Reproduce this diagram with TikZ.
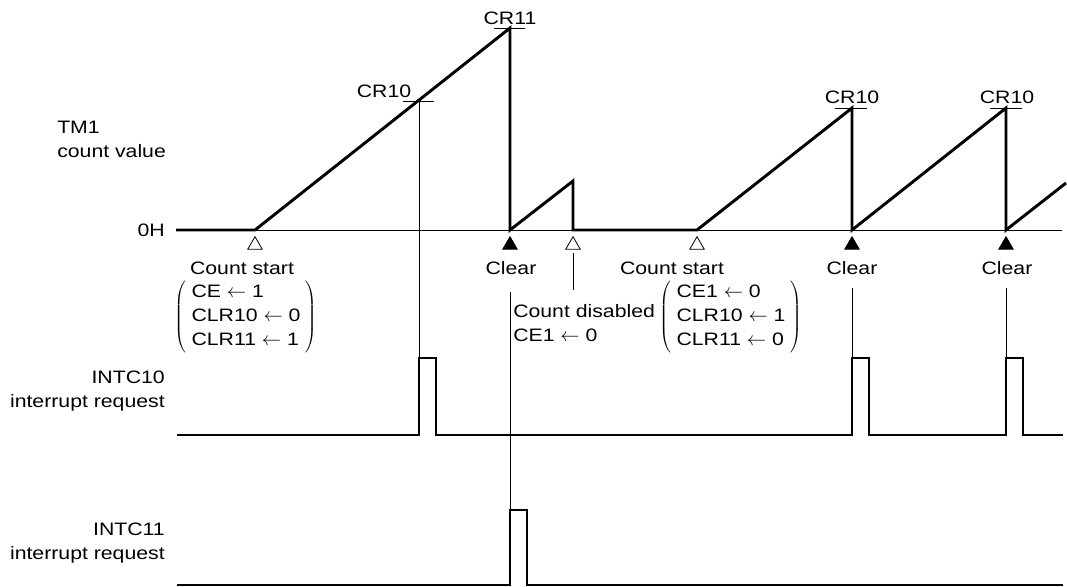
\documentclass[tikz,border=0pt]{standalone}
\usepackage{fontspec}
\setmainfont[FakeStretch=1.18]{Liberation Sans}
\usetikzlibrary{shapes.geometric}

\begin{document}
\begin{tikzpicture}[
    x=0.75pt, y=-0.75pt,
    font=\fontsize{13.5pt}{18pt}\selectfont,
    texto/.style={inner sep=0pt},
    senal/.style={line width=2.2pt, line join=miter},
    guia/.style={line width=0.7pt},
    marca/.style={regular polygon, regular polygon sides=3, minimum size=12.5pt, inner sep=0pt, draw, line width=0.6pt},
    inicio/.style={marca, fill=white},
    borrado/.style={marca, fill=black}
]
\useasboundingbox (0,0) rectangle (1067,586);

\coordinate (a0) at (176,230);
\coordinate (a1) at (255,230);
\coordinate (cr11) at (510,28);
\coordinate (a2) at (510,230);
\coordinate (d1) at (573,181);
\coordinate (a3) at (573,230);
\coordinate (a4) at (697,230);
\coordinate (cr10b) at (852,108);
\coordinate (a5) at (852,230);
\coordinate (cr10c) at (1006,108);
\coordinate (a6) at (1006,230);
\coordinate (a7) at (1066,183);
\coordinate (fin) at (1062,230);
\coordinate (cr10a) at (419,101);

\coordinate (b0) at (177,435);
\coordinate (b1) at (419,435);
\coordinate (b2) at (852,435);
\coordinate (b3) at (1006,435);
\coordinate (b4) at (1063,435);
\coordinate (p10a) at (419,358);
\coordinate (p10b) at (852,358);
\coordinate (p10c) at (1006,358);

\coordinate (c0) at (177,585);
\coordinate (c1) at (510,585);
\coordinate (c2) at (1063,585);
\coordinate (p11) at (510,510);

\node[texto, anchor=west, align=left] (tm1) at (57,139) {TM1\\count value};
\node[texto, anchor=east] (cero) at (165,230) {0H};
\node[texto, anchor=east, align=right] (intc10) at (165,391) {INTC10\\interrupt request};
\node[texto, anchor=east, align=right] (intc11) at (165,543) {INTC11\\interrupt request};

\draw[guia] (a0) -- (fin);
\draw[senal] (a0) -- (a1) -- (cr11) -- (a2) -- (d1) -- (a3) -- (a4) -- (cr10b) -- (a5) -- (cr10c) -- (a6) -- (a7);

\draw[guia] (cr11) ++(-16,0) -- ++(31,0);
\draw[guia] (cr10a) ++(-16,0) -- ++(31,0);
\draw[guia] (cr10b) ++(-17,0) -- ++(32,0);
\draw[guia] (cr10c) ++(-16,0) -- ++(32,0);
\node[texto, anchor=south] (lcr11) at (510,25) {CR11};
\node[texto, anchor=south] (lcr10a) at (384,98) {CR10};
\node[texto, anchor=south] (lcr10b) at (852,104) {CR10};
\node[texto, anchor=south] (lcr10c) at (1007,104) {CR10};

\node[inicio] (m1) at (255,245) {};
\node[borrado] (m2) at (510,245) {};
\node[inicio] (m3) at (573,245) {};
\node[inicio] (m4) at (697,245) {};
\node[borrado] (m5) at (852,245) {};
\node[borrado] (m6) at (1006,245) {};

\node[texto] (ini1) at (242,268) {Count start};
\node[texto] (clr1) at (511,268) {Clear};
\node[texto] (ini2) at (672,268) {Count start};
\node[texto] (clr2) at (852,268) {Clear};
\node[texto] (clr3) at (1007,268) {Clear};

\node[texto] (reg1) at (246,317) {$\left(\;\vcenter{\hbox{\begin{tabular}{@{}l@{}}CE $\leftarrow$ 1\\CLR10 $\leftarrow$ 0\\CLR11 $\leftarrow$ 1\end{tabular}}}\;\right)$};
\node[texto] (reg2) at (731,317) {$\left(\;\vcenter{\hbox{\begin{tabular}{@{}l@{}}CE1 $\leftarrow$ 0\\CLR10 $\leftarrow$ 1\\CLR11 $\leftarrow$ 0\end{tabular}}}\;\right)$};
\node[texto, anchor=west, align=left] (desh) at (513,323) {Count disabled\\CE1 $\leftarrow$ 0};

\draw[guia] (573,253) -- (573,290);
\draw[guia] (cr10a) -- (p10a);
\draw[guia] (510,292) -- (p11);
\draw[guia] (852,288) -- (p10b);
\draw[guia] (1006,288) -- (p10c);

\draw[senal] (b0) -- (b1) -- (p10a) -- ++(17,0) -- ++(0,77) -- (b2) -- (p10b) -- ++(17,0) -- ++(0,77) -- (b3) -- (p10c) -- ++(17,0) -- ++(0,77) -- (b4);
\draw[senal] (c0) -- (c1) -- (p11) -- ++(17,0) -- ++(0,75) -- (c2);
\end{tikzpicture}
\end{document}
